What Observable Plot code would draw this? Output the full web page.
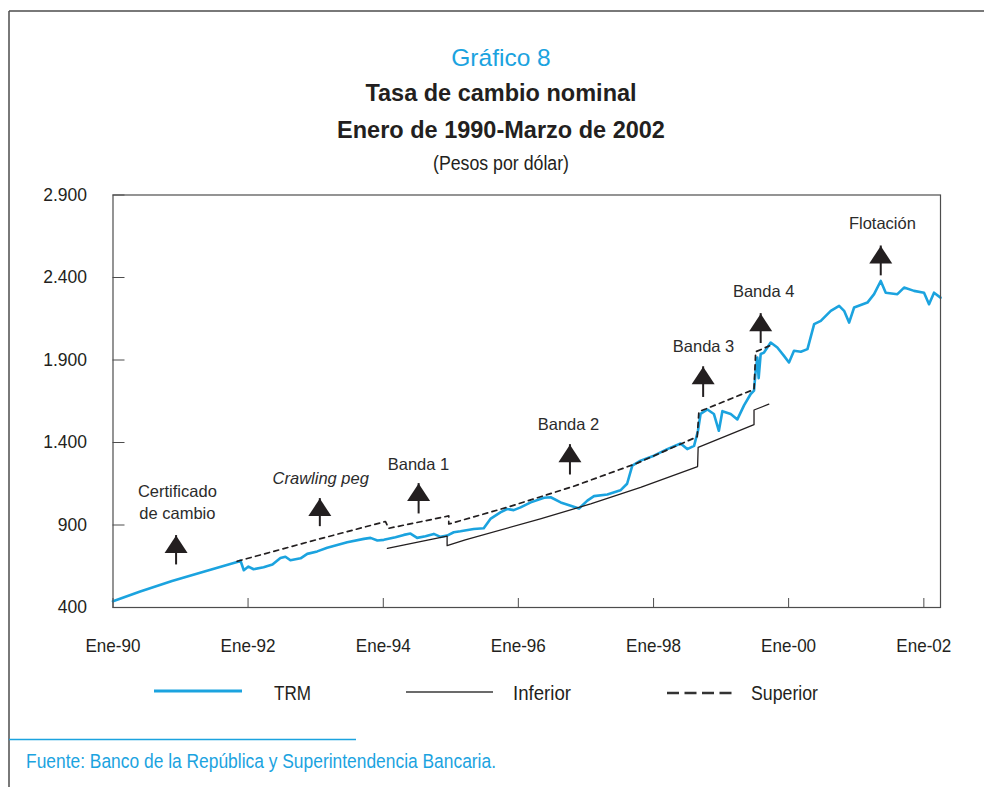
<!DOCTYPE html>
<html lang="es"><head><meta charset="utf-8">
<script src="https://cdn.jsdelivr.net/npm/d3@7"></script>
<script src="https://cdn.jsdelivr.net/npm/@observablehq/plot@0.6"></script>
<style>
html,body{margin:0;padding:0;background:#fff;}
#page{position:relative;width:984px;height:787px;overflow:hidden;background:#fff;}
#overlay{position:absolute;left:0;top:0;}
#chart{position:absolute;left:0;top:180px;}
</style></head><body>
<div id="page"><svg id="overlay" width="984" height="787"></svg><div id="chart"></div></div>
<script>
const CYAN = "#1ba3df";
const INK = "#231f20";
const FONT = '"Liberation Sans", Arial, Helvetica, sans-serif';

// ---------- data ----------
const trmDates = ["1990-01-01","1990-05-28","1990-11-16","1991-05-15","1991-11-03","1991-11-21","1991-12-09","1992-01-03","1992-01-31","1992-03-25","1992-05-12","1992-06-24","1992-07-21","1992-08-17","1992-10-11","1992-11-16","1993-01-09","1993-03-04","1993-06-20","1993-09-18","1993-10-24","1993-11-30","1994-01-04","1994-03-08","1994-04-22","1994-05-28","1994-07-03","1994-08-17","1994-10-01","1994-11-06","1994-12-12","1995-01-17","1995-02-22","1995-05-05","1995-06-28","1995-08-03","1995-09-26","1995-11-01","1995-12-07","1996-01-13","1996-03-08","1996-05-19","1996-06-24","1996-08-17","1996-10-10","1996-11-24","1997-01-08","1997-02-13","1997-04-26","1997-07-06","1997-08-11","1997-09-08","1997-10-23","1998-01-03","1998-03-16","1998-05-27","1998-07-02","1998-08-08","1998-08-29","1998-09-12","1998-10-19","1998-11-23","1998-12-20","1999-01-08","1999-02-22","1999-03-30","1999-05-05","1999-06-10","1999-06-28","1999-07-07","1999-07-16","1999-07-23","1999-08-03","1999-08-21","1999-09-26","1999-11-01","1999-12-07","2000-01-03","2000-01-30","2000-03-07","2000-04-12","2000-05-18","2000-06-23","2000-08-16","2000-09-30","2000-10-27","2000-11-23","2000-12-20","2001-03-02","2001-04-07","2001-05-13","2001-06-09","2001-08-11","2001-09-16","2001-11-09","2002-01-02","2002-01-29","2002-02-25","2002-04-01"];
const trmValues = [438,497,560,620,676,684,626,648,632,644,660,700,708,686,698,725,740,762,795,816,822,806,810,826,840,848,822,832,846,828,836,856,862,876,880,937,977,997,990,1007,1037,1065,1068,1037,1017,1000,1048,1075,1085,1110,1150,1260,1290,1320,1360,1394,1360,1380,1471,1573,1600,1573,1471,1590,1573,1540,1625,1694,1714,1835,1915,1790,1936,1945,2006,1976,1925,1885,1956,1950,1966,2117,2137,2198,2228,2198,2127,2218,2248,2299,2379,2308,2299,2339,2319,2308,2238,2308,2278];

const infDates = ["1994-01-23","1994-12-12","1994-12-12","1995-03-20","1996-04-29","1997-01-26","1997-10-23","1998-08-27","1998-08-30","1999-06-28","1999-06-28","1999-09-16"];
const infValues = [759,832,775,810,937,1028,1128,1254,1371,1508,1597,1632];

const supDates = ["1991-11-03","1992-12-03","1994-01-13","1994-01-30","1994-12-21","1994-12-21","1995-11-01","1996-10-27","1997-10-05","1998-08-25","1998-09-03","1998-10-09","1999-06-28","1999-07-07","1999-09-20"];
const supValues = [680,801,921,880,955,906,1007,1135,1275,1435,1588,1603,1722,1950,1986];

const xTickDates = ["1990-01-01","1992-01-01","1994-01-01","1996-01-01","1998-01-01","2000-01-01","2002-01-01"];
const xTickLabels = ["Ene-90","Ene-92","Ene-94","Ene-96","Ene-98","Ene-00","Ene-02"];
const yTicks = [400,900,1400,1900,2400,2900];
const yTickLabels = ["400","900","1.400","1.900","2.400","2.900"];

const noteLabels = ["Certificado\nde cambio","Crawling peg","Banda 1","Banda 2","Banda 3","Banda 4","Flotación"];
const noteItalic = [false,true,false,false,false,false,false];
const noteDates = ["1990-12-15","1993-01-28","1994-07-10","1996-09-28","1998-09-28","1999-08-19","2001-05-22"];
const noteValues = [1045,1181,1275,1522,1994,2326,2740];

const arrowDates = ["1990-12-08","1993-01-23","1994-07-11","1996-10-06","1998-09-26","1999-08-03","2001-05-13"];
const arrowTops = [836,1060,1151,1387,1859,2181,2591];
const arrowBottoms = [658,890,967,1203,1673,2000,2410];

const legendNames = ["TRM","Inferior","Superior"];
const titleText = "Gráfico 8";
const headLines = ["Tasa de cambio nominal","Enero de 1990-Marzo de 2002"];
const unitText = "(Pesos por dólar)";
const sourceText = "Fuente: Banco de la República y Superintendencia Bancaria.";

// ---------- tables ----------
const toRows = (ds, vs) => ds.map((d, i) => ({date: new Date(d), value: vs[i]}));
const trm = toRows(trmDates, trmValues);
const inf = toRows(infDates, infValues);
const sup = toRows(supDates, supValues);
const notes = noteLabels.map((l, i) => ({label: l, italic: noteItalic[i], date: new Date(noteDates[i]), value: noteValues[i]}));
const arrows = arrowDates.map((d, i) => ({date: new Date(d), top: arrowTops[i], bottom: arrowBottoms[i]}));
const xTicks = xTickDates.map(d => new Date(d));
const xLab = new Map(xTicks.map((d, i) => [+d, xTickLabels[i]]));
const yLab = new Map(yTicks.map((d, i) => [d, yTickLabels[i]]));

const arrowHead = {draw(ctx) { ctx.moveTo(0, 0); ctx.lineTo(11.5, 17.5); ctx.lineTo(-11.5, 17.5); ctx.closePath(); }};

const chart = Plot.plot({
  width: 984, height: 480,
  marginLeft: 112.5, marginRight: 44, marginTop: 14.5, marginBottom: 53,
  style: {fontFamily: FONT, color: INK, background: "transparent", overflow: "visible"},
  x: {type: "utc", domain: [new Date("1990-01-01"), new Date("2002-04-01")]},
  y: {domain: [400, 2900]},
  marks: [
    Plot.axisY({ticks: yTicks, tickFormat: d => yLab.get(d), tickSize: 0, tickPadding: 26, fontSize: 17.5, fill: INK, label: null}),
    Plot.axisY({ticks: yTicks, tickFormat: () => "", tickSize: -12, stroke: "#4d4d4d", label: null}),
    Plot.axisX({ticks: xTicks, tickFormat: d => xLab.get(+d), tickSize: 0, tickPadding: 31, fontSize: 19, fill: INK, label: null}),
    Plot.axisX({ticks: xTicks, tickFormat: () => "", tickSize: -9, stroke: "#4d4d4d", label: null}),
    Plot.line(trm, {x: "date", y: "value", stroke: CYAN, strokeWidth: 2.6, strokeLinejoin: "round"}),
    Plot.line(inf, {x: "date", y: "value", stroke: INK, strokeWidth: 1.3}),
    Plot.line(sup, {x: "date", y: "value", stroke: INK, strokeWidth: 1.7, strokeDasharray: "5,4.5"}),
    Plot.ruleX(arrows, {x: "date", y1: "top", y2: "bottom", stroke: INK, strokeWidth: 2}),
    Plot.dot(arrows, {x: "date", y: "top", symbol: arrowHead, fill: INK, stroke: "none", r: 5}),
    Plot.text(notes.filter(d => !d.italic), {x: "date", y: "value", text: "label", fontSize: 16.5, fill: "#2b2b2b", lineHeight: 1.36}),
    Plot.text(notes.filter(d => d.italic), {x: "date", y: "value", text: "label", fontSize: 16.5, fill: "#2b2b2b", fontStyle: "italic"}),
    Plot.frame({stroke: "#4d4d4d", strokeWidth: 1.2})
  ]
});
document.getElementById("chart").appendChild(chart);
// condense x tick labels to the reference width
d3.select(chart).selectAll('g[aria-label="x-axis tick label"] text')
  .attr("textLength", 55).attr("lengthAdjust", "spacingAndGlyphs");

// ---------- header, legend, footer ----------
const ov = d3.select("#overlay").style("font-family", FONT);
ov.append("line").attr("x1", 9).attr("x2", 984).attr("y1", 11).attr("y2", 11).attr("stroke", "#4d4d4d").attr("stroke-width", 1.5);
ov.append("line").attr("x1", 9).attr("x2", 9).attr("y1", 11).attr("y2", 787).attr("stroke", "#4d4d4d").attr("stroke-width", 1.5);

ov.append("text").attr("x", 501).attr("y", 65.5).attr("text-anchor", "middle").attr("font-size", 24.5).attr("fill", CYAN).text(titleText);
headLines.forEach((t, i) => ov.append("text").attr("x", 501).attr("y", [101, 138][i]).attr("text-anchor", "middle")
  .attr("font-size", 23.5).attr("font-weight", "bold").attr("fill", INK).text(t));
ov.append("text").attr("x", 501).attr("y", 170).attr("text-anchor", "middle").attr("font-size", 19.5).attr("fill", INK)
  .attr("textLength", 136).attr("lengthAdjust", "spacingAndGlyphs").text(unitText);

// legend
const lg = [
  {x1: 154, x2: 242, y: 691, stroke: CYAN, w: 3, dash: null, tx: 274, tl: 37},
  {x1: 406, x2: 493, y: 692, stroke: "#3a3a3a", w: 1.3, dash: null, tx: 513, tl: 58},
  {x1: 667, x2: 733, y: 693, stroke: "#333", w: 2.6, dash: "12,5.5", tx: 751, tl: 67}
];
lg.forEach((d, i) => {
  const l = ov.append("line").attr("x1", d.x1).attr("x2", d.x2).attr("y1", d.y).attr("y2", d.y).attr("stroke", d.stroke).attr("stroke-width", d.w);
  if (d.dash) l.attr("stroke-dasharray", d.dash);
  ov.append("text").attr("x", d.tx).attr("y", 700).attr("font-size", 20).attr("fill", INK)
    .attr("textLength", d.tl).attr("lengthAdjust", "spacingAndGlyphs").text(legendNames[i]);
});

// footer
ov.append("line").attr("x1", 9).attr("x2", 356).attr("y1", 739.5).attr("y2", 739.5).attr("stroke", CYAN).attr("stroke-width", 1.3);
ov.append("text").attr("x", 26).attr("y", 767.5).attr("font-size", 20.5).attr("fill", CYAN)
  .attr("textLength", 470).attr("lengthAdjust", "spacingAndGlyphs").text(sourceText);
</script>
</body></html>
